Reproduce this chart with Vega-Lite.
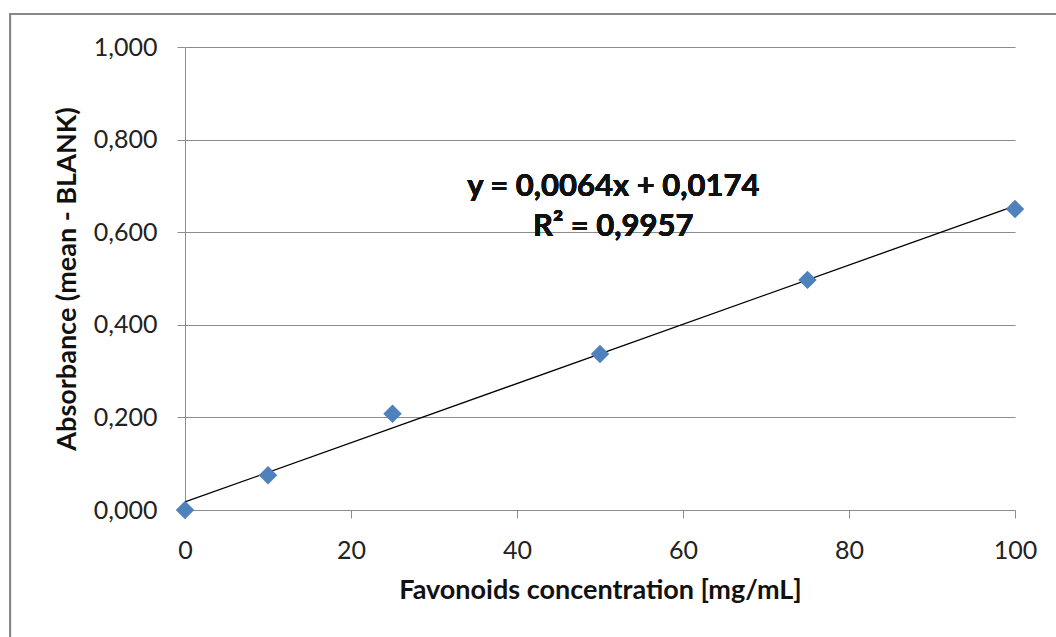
{
  "$schema": "https://vega.github.io/schema/vega-lite/v6.json",
  "width": 830,
  "height": 463,
  "autosize": {"type": "none"},
  "padding": {"left": 185, "top": 47, "right": 41, "bottom": 127},
  "background": "white",
  "config": {
    "view": {"stroke": null},
    "font": "Lato",
    "axis": {
      "labelFont": "Lato",
      "labelFontSize": 25,
      "labelColor": "#222222",
      "labelFlush": false,
      "titleFont": "Lato",
      "titleFontSize": 27,
      "titleFontWeight": "bold",
      "titleColor": "#111111",
      "domainColor": "#8c8c8c",
      "tickColor": "#8c8c8c",
      "gridColor": "#8c8c8c",
      "domainWidth": 1,
      "tickWidth": 1,
      "gridWidth": 1,
      "tickSize": 8,
      "labelPadding": 20
    }
  },
  "data": {
    "values": [
      {"conc": 0, "abs": 0.0},
      {"conc": 10, "abs": 0.075},
      {"conc": 25, "abs": 0.208},
      {"conc": 50, "abs": 0.337},
      {"conc": 75, "abs": 0.497},
      {"conc": 100, "abs": 0.650}
    ]
  },
  "encoding": {
    "x": {
      "field": "conc",
      "type": "quantitative",
      "scale": {"domain": [0, 100], "nice": false},
      "axis": {
        "title": "Favonoids concentration [mg/mL]",
        "values": [0, 20, 40, 60, 80, 100],
        "grid": false,
        "titlePadding": 14
      }
    },
    "y": {
      "field": "abs",
      "type": "quantitative",
      "scale": {"domain": [0, 1], "nice": false},
      "axis": {
        "title": "Absorbance (mean - BLANK)",
        "values": [0, 0.2, 0.4, 0.6, 0.8, 1.0],
        "grid": true,
        "labelExpr": "replace(format(datum.value, '.3f'), '.', ',')",
        "titlePadding": 12
      }
    }
  },
  "layer": [
    {
      "mark": {"type": "rect", "fill": null, "stroke": "#888888", "strokeWidth": 2, "clip": false},
      "encoding": {
        "x": {"datum": -21.08, "type": "quantitative"},
        "x2": {"datum": 130},
        "y": {"datum": 1.0713, "type": "quantitative"},
        "y2": {"datum": -1}
      }
    },
    {
      "transform": [{"regression": "abs", "on": "conc", "extent": [0, 100]}],
      "mark": {"type": "line", "color": "#000000", "strokeWidth": 1.3}
    },
    {
      "mark": {"type": "point", "shape": "diamond", "filled": true, "color": "#4F81BD", "size": 340, "opacity": 1, "clip": false}
    },
    {
      "mark": {"type": "text", "font": "Lato", "fontSize": 31, "fontWeight": "bold", "color": "#111111", "align": "center", "baseline": "middle", "lineHeight": 40},
      "encoding": {
        "x": {"datum": 51.6, "type": "quantitative"},
        "y": {"datum": 0.698, "type": "quantitative"},
        "text": {"value": ["y = 0,0064x + 0,0174", "R² = 0,9957"]}
      }
    }
  ]
}
